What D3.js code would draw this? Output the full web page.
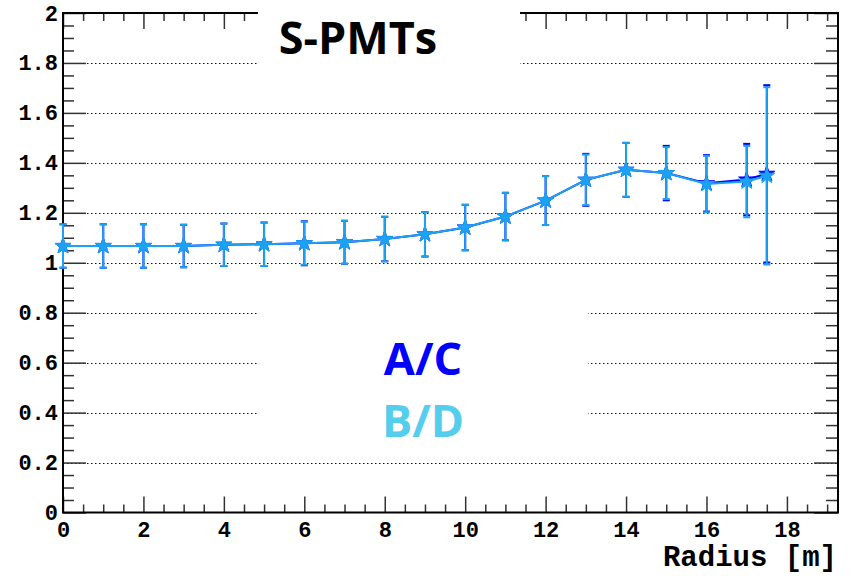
<!DOCTYPE html>
<html>
<head>
<meta charset="utf-8">
<title>S-PMTs ratio vs radius</title>
<script src="https://cdn.jsdelivr.net/npm/d3@7"></script>
<style>
    body { margin: 0; background: #ffffff; }
    .axis text { font-family: "Liberation Mono", "DejaVu Sans Mono", monospace; font-weight: bold; font-size: 22px; fill: #000; }
    .axis path { display: none; }
    .axis line { stroke: #333; stroke-width: 1.5px; }
</style>
</head>
<body>
<div id="chart"></div>
<script>

// data
let radius = [0, 1, 2, 3, 4, 5, 6, 7, 8, 9, 10, 11, 12, 13, 14, 15, 16, 17, 17.5];

let ratioAC = [1.067, 1.067, 1.067, 1.067, 1.072, 1.074, 1.078, 1.082, 1.095, 1.114, 1.141, 1.185, 1.249, 1.332, 1.372, 1.359, 1.318, 1.333, 1.356];
let errAC   = [0.087, 0.087, 0.087, 0.085, 0.085, 0.087, 0.088, 0.086, 0.089, 0.089, 0.091, 0.095, 0.098, 0.104, 0.108, 0.109, 0.113, 0.143, 0.355];

let ratioBD = [1.067, 1.067, 1.067, 1.067, 1.072, 1.074, 1.078, 1.082, 1.095, 1.114, 1.141, 1.185, 1.249, 1.332, 1.372, 1.359, 1.315, 1.325, 1.348];
let errBD   = [0.087, 0.087, 0.087, 0.085, 0.085, 0.087, 0.086, 0.086, 0.089, 0.089, 0.091, 0.095, 0.098, 0.101, 0.108, 0.104, 0.113, 0.143, 0.355];

let xTicks = [0, 2, 4, 6, 8, 10, 12, 14, 16, 18];
let xTickLabels = ["0", "2", "4", "6", "8", "10", "12", "14", "16", "18"];
let yTicks = [0, 0.2, 0.4, 0.6, 0.8, 1, 1.2, 1.4, 1.6, 1.8, 2];
let yTickLabels = ["0", "0.2", "0.4", "0.6", "0.8", "1", "1.2", "1.4", "1.6", "1.8", "2"];

let seriesNames = ["A/C", "B/D"];
let titleText = "S-PMTs";
let xTitle = "Radius [m]";


class RatioVis {

    constructor(parentElement){
        this.parentElement = parentElement;
        this.colors = { ac: "#0000ff", bd: "#1ba2f3", bdLegend: "#55cdec" };
        this.initVis();
    }

    initVis(){
        let vis = this;

        vis.margin = { top: 13, right: 16, bottom: 63.5, left: 63 };
        vis.width = 854 - vis.margin.left - vis.margin.right;
        vis.height = 576 - vis.margin.top - vis.margin.bottom;

        vis.root = d3.select("#" + vis.parentElement).append("svg")
            .attr("width", 854)
            .attr("height", 576);

        vis.root.append("rect")
            .attr("width", 854)
            .attr("height", 576)
            .attr("fill", "#fff");

        vis.svg = vis.root.append("g")
            .attr("transform", `translate(${vis.margin.left}, ${vis.margin.top})`);

        vis.x = d3.scaleLinear()
            .domain([0, 19.27])
            .range([0, vis.width]);

        vis.y = d3.scaleLinear()
            .domain([0, 2])
            .range([vis.height, 0]);

        // minor tick positions
        vis.xMinor = d3.range(0.5, 19.26, 0.5).filter(d => d % 2 != 0);
        vis.yMinor = d3.range(0.05, 2, 0.05).filter(d => Math.abs(d / 0.2 - Math.round(d / 0.2)) > 0.01);

        // dotted grid
        vis.svg.append("g")
            .attr("class", "grid")
            .selectAll("line")
            .data(yTicks.filter(d => d > 0 && d < 2))
            .enter()
            .append("line")
            .attr("x1", 0)
            .attr("x2", vis.width)
            .attr("y1", d => Math.round(vis.y(d)) + 0.5)
            .attr("y2", d => Math.round(vis.y(d)) + 0.5)
            .attr("stroke", "#111")
            .attr("stroke-width", 1)
            .attr("stroke-dasharray", "1.5,2.5");

        // axes
        vis.svg.append("g")
            .attr("class", "axis x-axis")
            .attr("transform", `translate(0, ${vis.height})`)
            .call(d3.axisBottom(vis.x).tickValues(xTicks).tickSizeInner(-16).tickSizeOuter(0).tickPadding(9)
                .tickFormat((d, i) => xTickLabels[i]));

        vis.svg.append("g")
            .attr("class", "axis")
            .attr("transform", `translate(0, ${vis.height})`)
            .call(d3.axisBottom(vis.x).tickValues(vis.xMinor).tickSize(-8).tickFormat(""));

        vis.svg.append("g")
            .attr("class", "axis")
            .call(d3.axisTop(vis.x).tickValues(xTicks).tickSize(-16).tickFormat(""));

        vis.svg.append("g")
            .attr("class", "axis")
            .call(d3.axisTop(vis.x).tickValues(vis.xMinor).tickSize(-8).tickFormat(""));

        vis.svg.append("g")
            .attr("class", "axis y-axis")
            .call(d3.axisLeft(vis.y).tickValues(yTicks).tickSizeInner(-23).tickSizeOuter(0).tickPadding(5)
                .tickFormat((d, i) => yTickLabels[i]));

        vis.svg.append("g")
            .attr("class", "axis")
            .call(d3.axisLeft(vis.y).tickValues(vis.yMinor).tickSize(-11).tickFormat(""));

        vis.svg.append("g")
            .attr("class", "axis")
            .attr("transform", `translate(${vis.width}, 0)`)
            .call(d3.axisRight(vis.y).tickValues(yTicks).tickSize(-24).tickFormat(""));

        vis.svg.append("g")
            .attr("class", "axis")
            .attr("transform", `translate(${vis.width}, 0)`)
            .call(d3.axisRight(vis.y).tickValues(vis.yMinor).tickSize(-12).tickFormat(""));

        // frame
        vis.svg.append("rect")
            .attr("width", vis.width)
            .attr("height", vis.height)
            .attr("fill", "none")
            .attr("stroke", "#000")
            .attr("stroke-width", 2);

        // x title
        vis.root.append("text")
            .attr("x", 837)
            .attr("y", 566)
            .attr("text-anchor", "end")
            .style("font-family", "'Liberation Mono', monospace")
            .style("font-weight", "bold")
            .style("font-size", "29px")
            .text(xTitle);

        vis.wrangleData();
    }

    wrangleData(){
        let vis = this;

        vis.seriesAC = radius.map((r, i) => ({ x: r, y: ratioAC[i], e: errAC[i] }));
        vis.seriesBD = radius.map((r, i) => ({ x: r, y: ratioBD[i], e: errBD[i] }));

        vis.updateVis();
    }

    drawSeries(data, color, cls){
        let vis = this;

        let g = vis.svg.append("g").attr("class", cls);

        let line = d3.line()
            .x(d => vis.x(d.x))
            .y(d => vis.y(d.y));

        g.append("path")
            .datum(data)
            .attr("d", line)
            .attr("fill", "none")
            .attr("stroke", color)
            .attr("stroke-width", 2);

        let bars = g.selectAll(".err")
            .data(data)
            .enter()
            .append("g")
            .attr("class", "err");

        bars.append("line")
            .attr("x1", d => vis.x(d.x))
            .attr("x2", d => vis.x(d.x))
            .attr("y1", d => vis.y(d.y - d.e))
            .attr("y2", d => vis.y(d.y + d.e))
            .attr("stroke", color)
            .attr("stroke-width", 2);

        [-1, 1].forEach(function(s){
            bars.append("line")
                .attr("x1", d => vis.x(d.x) - 3.5)
                .attr("x2", d => vis.x(d.x) + 3.5)
                .attr("y1", d => vis.y(d.y + s * d.e))
                .attr("y2", d => vis.y(d.y + s * d.e))
                .attr("stroke", color)
                .attr("stroke-width", 2);
        });

        g.selectAll(".marker")
            .data(data)
            .enter()
            .append("path")
            .attr("class", "marker")
            .attr("d", d3.symbol(d3.symbolStar).size(80))
            .attr("transform", d => `translate(${vis.x(d.x)}, ${vis.y(d.y)})`)
            .attr("fill", color)
            .attr("stroke", color)
            .attr("stroke-width", 1);
    }

    updateVis(){
        let vis = this;

        vis.drawSeries(vis.seriesAC, vis.colors.ac, "series-ac");
        vis.drawSeries(vis.seriesBD, vis.colors.bd, "series-bd");

        // title pave (white box drawn over frame)
        vis.root.append("rect")
            .attr("x", 258)
            .attr("y", 0)
            .attr("width", 262)
            .attr("height", 68)
            .attr("fill", "#fff");

        vis.root.append("text")
            .attr("x", 358)
            .attr("y", 54)
            .attr("text-anchor", "middle")
            .style("font-family", "'Open Sans', 'Noto Sans', sans-serif")
            .style("font-weight", "bold")
            .style("font-size", "45px")
            .text(titleText);

        // legend pave
        vis.root.append("rect")
            .attr("x", 258)
            .attr("y", 285)
            .attr("width", 330)
            .attr("height", 160)
            .attr("fill", "#fff");

        vis.root.selectAll(".legend-text")
            .data(seriesNames)
            .enter()
            .append("text")
            .attr("class", "legend-text")
            .attr("x", 423)
            .attr("y", (d, i) => 375 + i * 62)
            .attr("text-anchor", "middle")
            .style("font-family", "'Open Sans', 'Noto Sans', sans-serif")
            .style("font-weight", "bold")
            .style("font-size", "45px")
            .attr("fill", (d, i) => i == 0 ? vis.colors.ac : vis.colors.bdLegend)
            .text(d => d);
    }
}

let ratioVis = new RatioVis("chart");
</script>
</body>
</html>
